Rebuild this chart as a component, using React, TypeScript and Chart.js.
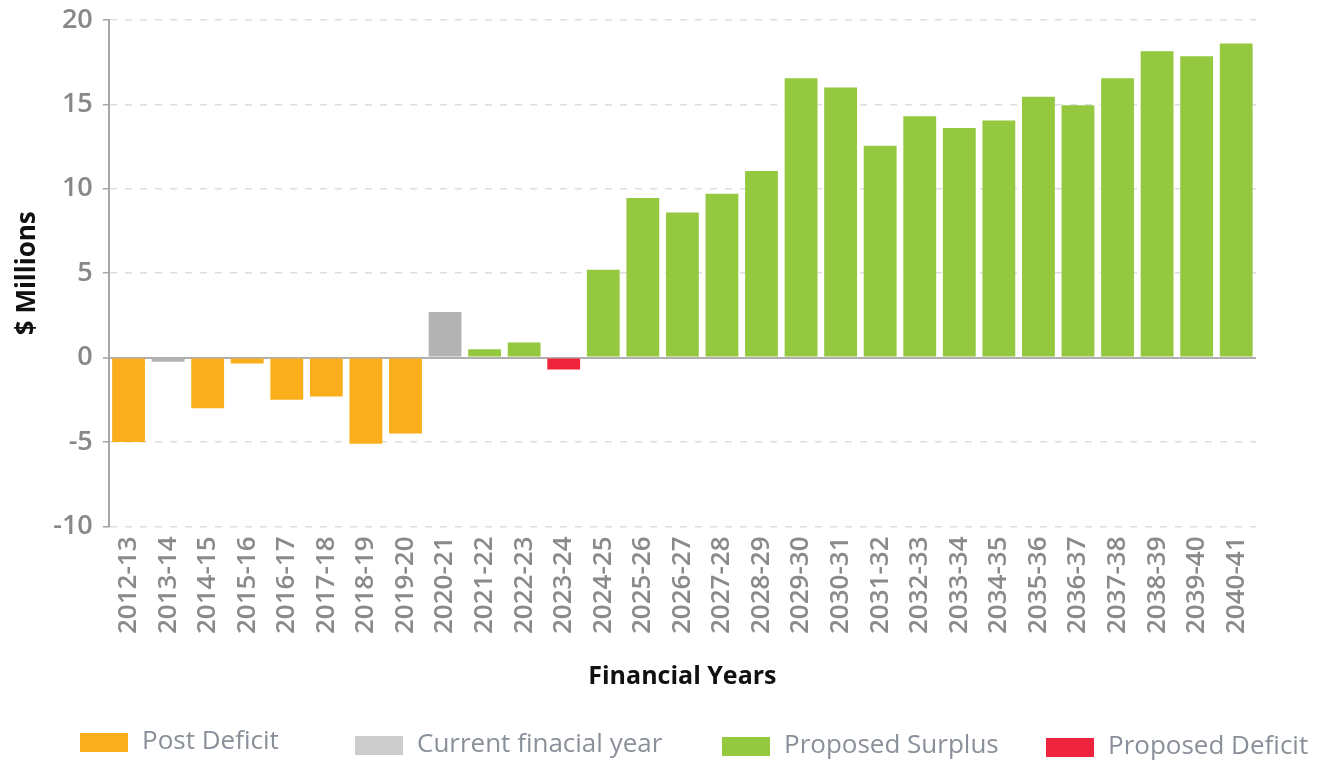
import React, { useEffect, useRef } from "react";
import { Chart, registerables } from "chart.js";

Chart.register(...registerables);

const YEARS = [
  "2012-13", "2013-14", "2014-15", "2015-16", "2016-17", "2017-18", "2018-19", "2019-20",
  "2020-21", "2021-22", "2022-23", "2023-24", "2024-25", "2025-26", "2026-27", "2027-28",
  "2028-29", "2029-30", "2030-31", "2031-32", "2032-33", "2033-34", "2034-35", "2035-36",
  "2036-37", "2037-38", "2038-39", "2039-40", "2040-41",
];

const POST_DEFICIT = [
  -5.0, null, -3.0, -0.35, -2.5, -2.3, -5.1, -4.5,
  null, null, null, null, null, null, null, null,
  null, null, null, null, null, null, null, null,
  null, null, null, null, null,
];

const CURRENT_YEAR = [
  null, -0.25, null, null, null, null, null, null,
  2.7, null, null, null, null, null, null, null,
  null, null, null, null, null, null, null, null,
  null, null, null, null, null,
];

const PROPOSED_SURPLUS = [
  null, null, null, null, null, null, null, null,
  null, 0.5, 0.9, null, 5.2, 9.45, 8.6, 9.7,
  11.05, 16.55, 16.0, 12.55, 14.3, 13.6, 14.05, 15.45,
  14.95, 16.55, 18.15, 17.85, 18.6,
];

const PROPOSED_DEFICIT = [
  null, null, null, null, null, null, null, null,
  null, null, null, -0.7, null, null, null, null,
  null, null, null, null, null, null, null, null,
  null, null, null, null, null,
];

const SERIES_LABELS = ["Post Deficit", "Current finacial year", "Proposed Surplus", "Proposed Deficit"];
const BAR_COLORS = ["#FAAE1B", "#B3B3B3", "#93C83F", "#EE243C"];
const LEGEND_COLORS = ["#FAAE1B", "#CCCCCC", "#93C83F", "#EE243C"];

const Y_MIN = -10;
const Y_MAX = 20;
const Y_STEP = 5;

const FONT = '"Open Sans", "Noto Sans", sans-serif';

const LEGEND_BOX_X = [80, 355, 722, 1046];
const LEGEND_Y = [742, 745, 746, 747];

const bottomLegend = {
  id: "bottomLegend",
  afterDraw(chart: any) {
    const ctx = chart.ctx;
    ctx.save();
    ctx.font = `400 26px ${FONT}`;
    ctx.textBaseline = "middle";
    ctx.textAlign = "left";
    chart.data.datasets.forEach((ds: any, i: number) => {
      const x = LEGEND_BOX_X[i];
      const y = LEGEND_Y[i];
      ctx.fillStyle = LEGEND_COLORS[i];
      ctx.fillRect(x, y - 9, 48, 19);
      ctx.fillStyle = "#8A9099";
      ctx.fillText(ds.label, x + 62, y);
    });
    ctx.restore();
  },
};

export default function App() {
  const canvasRef = useRef<HTMLCanvasElement | null>(null);

  useEffect(() => {
    document.body.style.margin = "0";
    const canvas = canvasRef.current;
    if (!canvas) return;
    const seriesData = [POST_DEFICIT, CURRENT_YEAR, PROPOSED_SURPLUS, PROPOSED_DEFICIT];
    const chart = new Chart(canvas, {
      type: "bar",
      data: {
        labels: YEARS,
        datasets: seriesData.map((d, i) => ({
          label: SERIES_LABELS[i],
          data: d,
          backgroundColor: BAR_COLORS[i],
          borderWidth: 0,
          barPercentage: 0.83,
          categoryPercentage: 1,
        })),
      },
      options: {
        animation: false,
        responsive: true,
        maintainAspectRatio: false,
        layout: { padding: { left: 8, right: 74, top: 0, bottom: 71 } },
        plugins: {
          legend: { display: false },
          tooltip: { enabled: false },
        },
        scales: {
          x: {
            stacked: true,
            grid: { display: false, drawTicks: false },
            border: { display: false },
            ticks: {
              autoSkip: false,
              minRotation: 90,
              maxRotation: 90,
              padding: 10,
              color: "#8A8A8A",
              font: { family: FONT, size: 26, weight: "600" },
            },
            title: {
              display: true,
              text: "Financial Years",
              color: "#111111",
              font: { family: FONT, size: 25, weight: "700" },
              padding: { top: 18, bottom: 0 },
            },
          },
          y: {
            stacked: true,
            min: Y_MIN,
            max: Y_MAX,
            ticks: {
              stepSize: Y_STEP,
              padding: 10,
              color: "#888888",
              font: { family: FONT, size: 27, weight: "600", lineHeight: 0.74 },
            },
            grid: {
              color: (c: any) => (c.tick && c.tick.value === 0 ? "#B0B0B0" : "#DEDEDE"),
              lineWidth: (c: any) => (c.tick && c.tick.value === 0 ? 2 : 1.5),
              tickLength: 6,
              tickColor: "#A6A6A6",
              tickWidth: 1.5,
            },
            border: {
              display: true,
              color: "#A6A6A6",
              width: 2,
              dash: (c: any) => (c.tick && c.tick.value === 0 ? [] : [7, 8]),
            },
            title: {
              display: true,
              text: "$ Millions",
              color: "#111111",
              font: { family: FONT, size: 26, weight: "700" },
              padding: { top: 4, bottom: 0 },
            },
          },
        },
      },
      plugins: [bottomLegend],
    });
    return () => chart.destroy();
  }, []);

  return (
    <div style={{ position: "relative", width: "1330px", height: "763px" }}>
      <canvas ref={canvasRef} />
    </div>
  );
}
